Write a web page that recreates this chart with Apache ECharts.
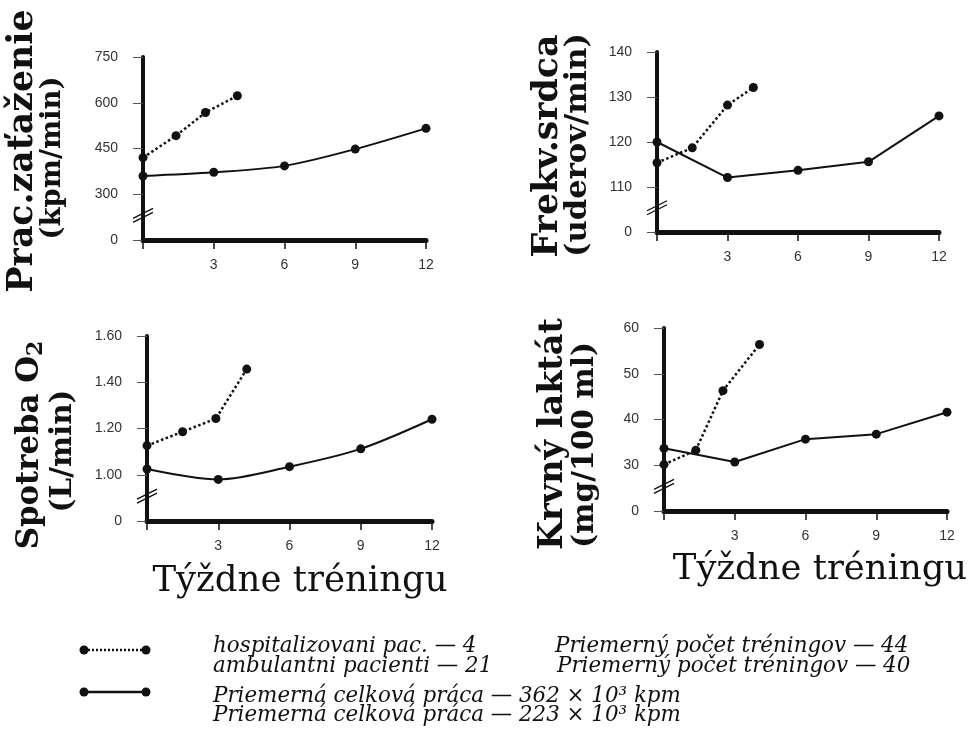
<!DOCTYPE html>
<html>
<head>
<meta charset="utf-8">
<script src="https://cdn.jsdelivr.net/npm/echarts@6/dist/echarts.min.js"></script>
<style>
  html, body { margin: 0; padding: 0; background: #fff; }
  #chart { width: 979px; height: 730px; }
</style>
</head>
<body>
<div id="chart"></div>
<script>
// Training weeks shared by the out-patient series
const weeks = [0, 3, 6, 9, 12];

// Work load (kpm/min)
const workHospWeeks = [0, 1.4, 2.65, 4.0];
const workHosp = [420, 492, 568, 623];
const workAmb = [360, 372, 393, 448, 516];
const workTicks = [0, 300, 450, 600, 750];

// Heart rate (beats/min)
const hrHospWeeks = [0, 1.5, 3.0, 4.1];
const hrHosp = [115.4, 118.7, 128.2, 132.1];
const hrAmb = [120, 112.1, 113.7, 115.6, 125.8];
const hrTicks = [0, 110, 120, 130, 140];

// Oxygen consumption (L/min)
const o2HospWeeks = [0, 1.5, 2.9, 4.2];
const o2Hosp = [1.126, 1.186, 1.243, 1.457];
const o2Amb = [1.025, 0.98, 1.035, 1.112, 1.24];
const o2Ticks = [0, 1.00, 1.20, 1.40, 1.60];

// Blood lactate (mg/100 ml)
const lacHospWeeks = [0, 1.35, 2.5, 4.05];
const lacHosp = [30.15, 33.3, 46.3, 56.4];
const lacAmb = [33.7, 30.7, 35.7, 36.8, 41.6];
const lacTicks = [0, 30, 40, 50, 60];

const xTickLabels = [3, 6, 9, 12];

const INK = '#111';
const SERIF = '"DejaVu Serif", "Liberation Serif", serif';
const SANS = '"Liberation Sans", Arial, sans-serif';

// Font size that makes a string span the given width.
const measureCtx = document.createElement('canvas').getContext('2d');
function fitSize(text, style, width) {
  measureCtx.font = style + ' 100px ' + SERIF;
  return 100 * width / measureCtx.measureText(text).width;
}

// Each panel's value axis is broken: the lowest slot stands for 0,
// the remaining ticks follow at an even step.
function brokenAxisRange(ticks) {
  const step = ticks[2] - ticks[1];
  return { min: ticks[1] - step, max: ticks[ticks.length - 1], interval: step };
}

const panels = [
  { grid: { left: 143, top: 57, width: 283, height: 183 }, ticks: workTicks, digits: 0,
    hw: workHospWeeks, hv: workHosp, av: workAmb, smooth: 0.3 },
  { grid: { left: 657, top: 52, width: 282, height: 180 }, ticks: hrTicks, digits: 0,
    hw: hrHospWeeks, hv: hrHosp, av: hrAmb, smooth: false },
  { grid: { left: 147, top: 336, width: 285, height: 185 }, ticks: o2Ticks, digits: 2,
    hw: o2HospWeeks, hv: o2Hosp, av: o2Amb, smooth: 0.3 },
  { grid: { left: 664, top: 328, width: 283, height: 183 }, ticks: lacTicks, digits: 0,
    hw: lacHospWeeks, hv: lacHosp, av: lacAmb, smooth: false }
];

const grids = [], xAxes = [], yAxes = [], series = [];

panels.forEach((p, i) => {
  const r = brokenAxisRange(p.ticks);
  p.range = r;
  grids.push(p.grid);
  xAxes.push({
    type: 'value', gridIndex: i, min: 0, max: 12, interval: 3,
    axisLine: { show: true, onZero: false, lineStyle: { color: INK, width: 5 } },
    axisTick: { show: true, length: 9, lineStyle: { color: INK, width: 1.5 } },
    splitLine: { show: false },
    axisLabel: {
      margin: 18, color: '#333', fontSize: 14, fontFamily: SANS,
      formatter: v => (xTickLabels.indexOf(v) >= 0 ? String(v) : '')
    }
  });
  yAxes.push({
    type: 'value', gridIndex: i, min: r.min, max: r.max, interval: r.interval,
    axisLine: { show: true, onZero: false, lineStyle: { color: INK, width: 4 } },
    axisTick: { show: true, length: 10, lineStyle: { color: '#555', width: 1 } },
    splitLine: { show: false },
    axisLabel: {
      margin: 25, color: '#333', fontSize: 14, fontFamily: SANS,
      formatter: v => (Math.abs(v - r.min) < 1e-9 ? '0' : v.toFixed(p.digits))
    }
  });
  series.push({
    type: 'line', xAxisIndex: i, yAxisIndex: i, smooth: p.smooth,
    data: weeks.map((w, k) => [w, p.av[k]]),
    symbol: 'circle', symbolSize: 9,
    itemStyle: { color: INK },
    lineStyle: { color: INK, width: 2 },
    z: 3
  });
  series.push({
    type: 'line', xAxisIndex: i, yAxisIndex: i,
    data: p.hw.map((w, k) => [w, p.hv[k]]),
    symbol: 'circle', symbolSize: 9,
    itemStyle: { color: INK },
    lineStyle: { color: INK, width: 2.5, type: [2.5, 2.5] },
    z: 3
  });
});

// Rotated axis titles, each sized to its span
function vText(x, y, text, span, rich, measureText) {
  const size = fitSize(measureText || text, 'bold', span);
  const el = {
    type: 'text', x: x, y: y, rotation: Math.PI / 2, z: 10,
    style: {
      text: text, fill: INK,
      font: 'bold ' + size.toFixed(1) + 'px ' + SERIF,
      textAlign: 'center', textVerticalAlign: 'middle'
    }
  };
  if (rich) el.style.rich = rich(size);
  return el;
}

function hText(x, y, text, span) {
  const size = fitSize(text, 'normal', span);
  return {
    type: 'text', x: x, y: y, z: 10,
    style: { text: text, fill: INK, font: size.toFixed(1) + 'px ' + SERIF, textAlign: 'center', textVerticalAlign: 'middle' }
  };
}

const titles = [
  vText(23, 151, 'Prac.zaťaženie', 283),
  vText(53, 158, '(kpm/min)', 163),
  vText(548, 146, 'Frekv.srdca', 223),
  vText(578, 145, '(uderov/min)', 224),
  vText(30, 445, 'Spotreba O{s|2}', 215,
    s => ({ s: { fontFamily: SERIF, fontWeight: 'bold', fontSize: Math.round(s * 0.7), padding: [Math.round(s * 0.4), 0, 0, 0] } }),
    'Spotreba O2'),
  vText(63, 451, '(L/min)', 123),
  vText(553, 434, 'Krvný laktát', 232),
  vText(585, 445, '(mg/100 ml)', 206),
  hText(300, 582, 'Týždne tréningu', 295),
  hText(820, 570, 'Týždne tréningu', 294)
];

const legendSize = fitSize('Priemerný počet tréningov — 44', 'italic', 353);
function legText(x, y, text) {
  return {
    type: 'text', x: x, y: y, z: 10,
    style: { text: text, fill: INK, font: 'italic ' + legendSize.toFixed(1) + 'px ' + SERIF, textAlign: 'left', textVerticalAlign: 'middle' }
  };
}

const legend = [
  { type: 'line', shape: { x1: 84, y1: 650, x2: 146, y2: 650 }, style: { stroke: INK, lineWidth: 2.5, lineDash: [2, 2] } },
  { type: 'circle', shape: { cx: 84, cy: 650, r: 4.5 }, style: { fill: INK } },
  { type: 'circle', shape: { cx: 146, cy: 650, r: 4.5 }, style: { fill: INK } },
  { type: 'line', shape: { x1: 84, y1: 692, x2: 146, y2: 692 }, style: { stroke: INK, lineWidth: 2.5 } },
  { type: 'circle', shape: { cx: 84, cy: 692, r: 4.5 }, style: { fill: INK } },
  { type: 'circle', shape: { cx: 146, cy: 692, r: 4.5 }, style: { fill: INK } },
  legText(213, 646, 'hospitalizovani pac. — 4'),
  legText(555, 646, 'Priemerný počet tréningov — 44'),
  legText(213, 666, 'ambulantni pacienti — 21'),
  legText(557, 666, 'Priemerný počet tréningov — 40'),
  legText(213, 696, 'Priemerná celková práca — 362 × 10³ kpm'),
  legText(213, 715, 'Priemerná celková práca — 223 × 10³ kpm')
];

const chart = echarts.init(document.getElementById('chart'), null, { renderer: 'canvas' });
chart.setOption({
  animation: false,
  backgroundColor: '#fff',
  grid: grids,
  xAxis: xAxes,
  yAxis: yAxes,
  series: series,
  graphic: titles.concat(legend)
});

// Break marks on each value axis, placed in the slot between 0 and the first real tick.
const breaks = panels.map((p, i) => {
  const pt = chart.convertToPixel({ gridIndex: i }, [0, p.range.min + p.range.interval * 0.55]);
  return {
    type: 'group', x: pt[0], y: pt[1], z: 20,
    children: [
      { type: 'polygon', shape: { points: [[-9, 3], [9, -6], [9, -2], [-9, 7]] }, style: { fill: '#fff' } },
      { type: 'line', shape: { x1: -10, y1: 3.5, x2: 10, y2: -6.5 }, style: { stroke: INK, lineWidth: 1.3 } },
      { type: 'line', shape: { x1: -10, y1: 7.5, x2: 10, y2: -2.5 }, style: { stroke: INK, lineWidth: 1.3 } }
    ]
  };
});
chart.setOption({ graphic: titles.concat(legend, breaks) });
</script>
</body>
</html>
